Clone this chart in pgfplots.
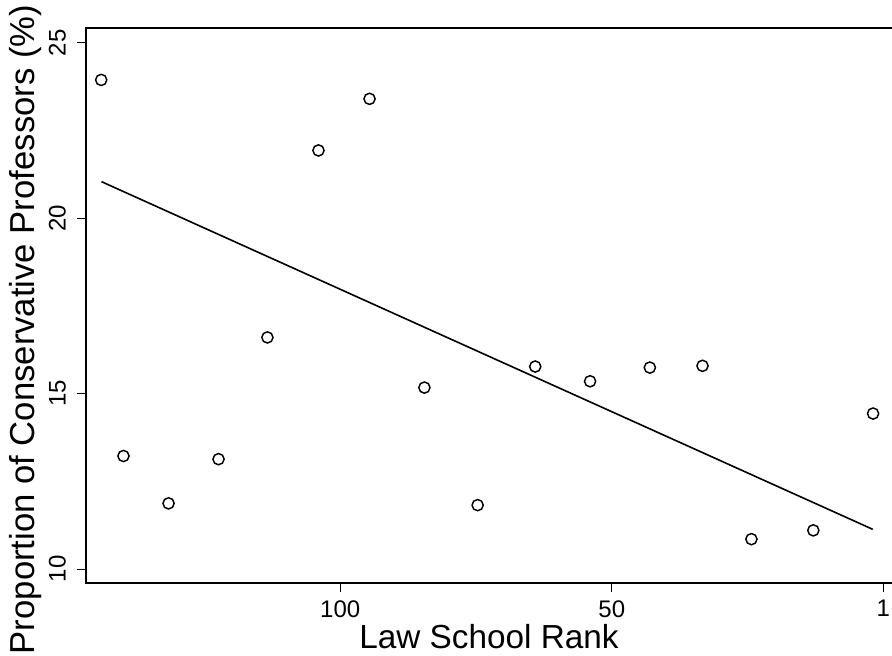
\documentclass[border=0pt]{standalone}
\usepackage{fontspec}
\setmainfont{Liberation Sans}
\usepackage{pgfplots}
\pgfplotsset{compat=1.18}
\begin{document}
\begin{tikzpicture}
\begin{axis}[
  scale only axis,
  width=604.5pt, height=416.25pt,
  x dir=reverse,
  xmin=-1.58, xmax=146.8,
  ymin=9.6, ymax=25.42,
  xtick={0,50,100}, xticklabels={1,50,100},
  ytick={10,15,20,25},
  xtick pos=bottom, ytick pos=left,
  tick align=outside,
  major tick length=6.5pt,
  tick style={black, line width=0.6pt},
  axis line style={draw=none},
  /pgf/number format/assume math mode=true,
  tick label style={font=\fontsize{18}{20}\selectfont},
  xticklabel style={yshift=-3pt},
  yticklabel style={rotate=90, anchor=south, yshift=5pt},
  xlabel={Law School Rank},
  ylabel={Proportion of Conservative Professors (\%)},
  xlabel style={font=\fontsize{25}{28}\selectfont, at={(rel axis cs:0.5,0)}, anchor=base, yshift=-48.75pt},
  ylabel style={font=\fontsize{26}{29}\selectfont, at={(rel axis cs:0,0.5)}, anchor=center, yshift=45pt, xshift=-18pt},
  clip=false,
]
\addplot[only marks, mark=o, mark size=4.2pt, mark options={line width=1.1pt, black}] coordinates {
(144.0,23.94) (139.9,13.22) (131.6,11.87) (122.4,13.13) (113.4,16.60)
(104.0,21.93) (94.6,23.40) (84.5,15.17) (74.7,11.82) (64.1,15.77)
(54.0,15.35) (43.0,15.74) (33.3,15.79) (24.3,10.85) (12.9,11.10) (1.9,14.43)
};
\addplot[black, line width=1.2pt] coordinates {(143.95,21.04) (1.97,11.13)};
\draw[black, line width=1.1pt] (rel axis cs:1,1) -- (rel axis cs:0,1) -- (rel axis cs:0,0) -- (rel axis cs:1,0);
\end{axis}
\pgfresetboundingbox
\path[use as bounding box] (-64.5pt,-54.75pt) rectangle (604.5pt,437.25pt);
\end{tikzpicture}
\end{document}
